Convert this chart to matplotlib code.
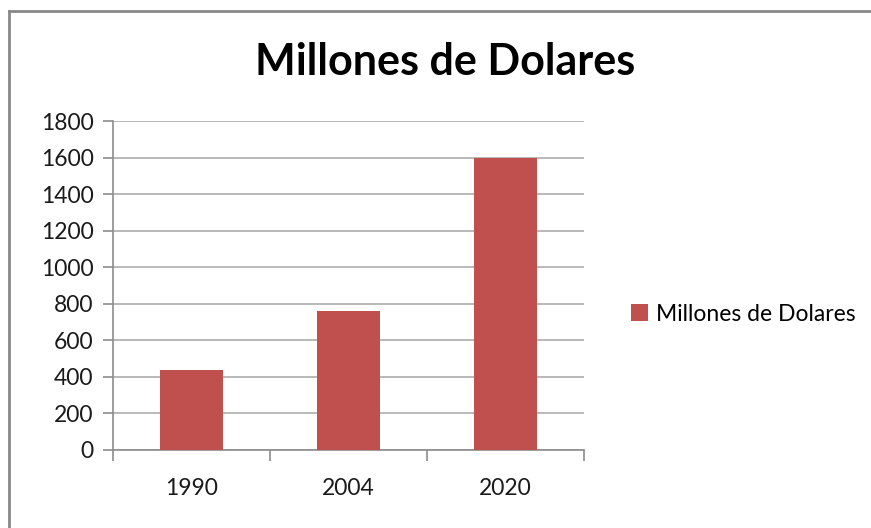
import matplotlib.pyplot as plt
from matplotlib.lines import Line2D

years = ["1990", "2004", "2020"]
millones = [440, 760, 1600]
y_ticks = [0, 200, 400, 600, 800, 1000, 1200, 1400, 1600, 1800]

bar_color = "#C0504D"
grid_color = "#B3B3B3"
axis_color = "#8C8C8C"

plt.rcParams['font.family'] = ['Lato', 'DejaVu Sans']

fig = plt.figure(figsize=(8.71, 5.28), dpi=100)
ax = fig.add_axes([113 / 871, 1 - 450 / 528, (584 - 113) / 871, (450 - 121) / 528])

x = list(range(len(years)))
ax.bar(x, millones, width=0.4, color=bar_color, label="Millones de Dolares", zorder=3)

ax.set_xlim(-0.5, len(years) - 0.5)
ax.set_ylim(0, 1800)
ax.set_yticks(y_ticks)
ax.set_yticklabels([str(v) for v in y_ticks], fontsize=16.5, color="#1a1a1a")
ax.set_xticks(x)
ax.set_xticklabels(years, fontsize=16.5, color="#1a1a1a")
ax.tick_params(axis="x", length=0, pad=20)
ax.tick_params(axis="y", length=7, width=1.2, color=axis_color, pad=7)

# category boundary ticks on the x axis
ax.set_xticks([i - 0.5 for i in range(len(years) + 1)], minor=True)
ax.tick_params(axis="x", which="minor", length=8, width=1.2, color=axis_color, direction="out")

ax.yaxis.grid(True, color=grid_color, linewidth=1.3, zorder=0)
for side in ["top", "right"]:
    ax.spines[side].set_visible(False)
ax.spines["left"].set_color(axis_color)
ax.spines["bottom"].set_color(axis_color)
ax.spines["left"].set_linewidth(1.2)
ax.spines["bottom"].set_linewidth(1.2)

fig.text(445 / 871, 1 - 62 / 528, "Millones de Dolares", fontsize=31, fontweight="bold",
         ha="center", va="center")

ax.legend(loc="center left", bbox_to_anchor=((622 - 113) / (584 - 113), (450 - 314) / (450 - 121)),
          frameon=False, fontsize=16.5, handlelength=0.75, handleheight=0.75, handletextpad=0.35,
          borderaxespad=0)

# chart area border (only top and left visible in the crop)
fig.add_artist(Line2D([9 / 871, 1], [1 - 11 / 528, 1 - 11 / 528], color="#888888", linewidth=2))
fig.add_artist(Line2D([9 / 871, 9 / 871], [0, 1 - 11 / 528], color="#888888", linewidth=2))

fig.savefig("out.png", dpi=100)
